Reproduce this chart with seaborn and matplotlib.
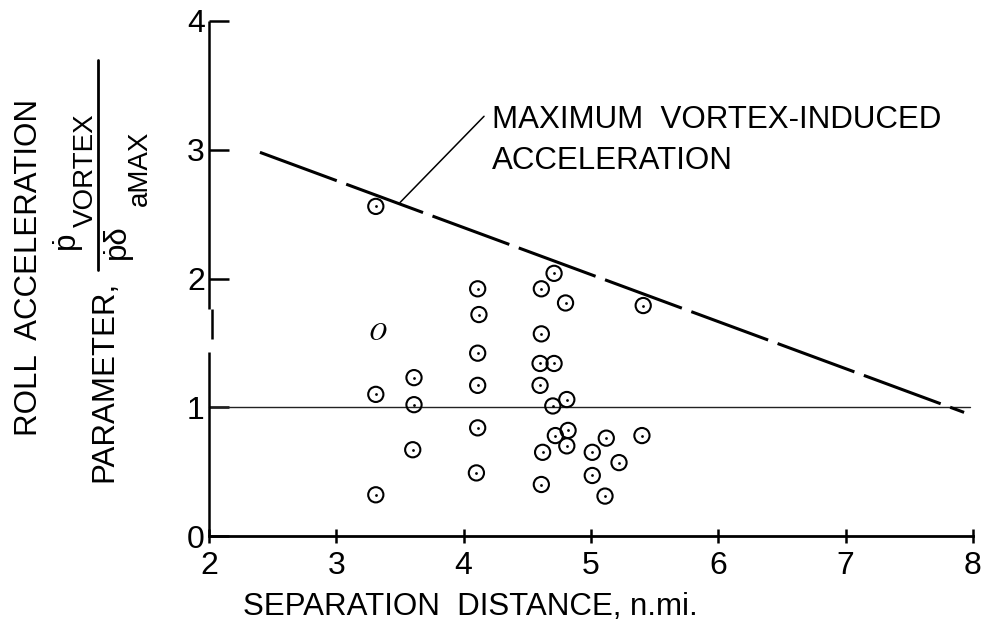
import matplotlib
matplotlib.use('Agg')
import matplotlib.pyplot as plt
from matplotlib.lines import Line2D
import seaborn as sns

# Data
sep_nmi = [3.31, 3.31, 3.31, 3.61, 3.61, 3.60, 4.11, 4.12, 4.11, 4.11, 4.11, 4.10,
           4.71, 4.61, 4.80, 5.41, 4.61, 4.60, 4.71, 4.60, 4.81, 4.70, 4.72, 4.82,
           4.81, 4.62, 4.61, 5.12, 5.01, 5.22, 5.01, 5.11, 5.40]
roll_param = [2.56, 1.10, 0.32, 1.23, 1.02, 0.67, 1.92, 1.72, 1.42, 1.17, 0.84, 0.49,
              2.04, 1.92, 1.81, 1.79, 1.57, 1.34, 1.34, 1.17, 1.06, 1.01, 0.78, 0.82,
              0.70, 0.65, 0.40, 0.76, 0.65, 0.57, 0.47, 0.31, 0.78]

# the odd open "O" symbol
open_x = [3.33]
open_y = [1.59]

# maximum vortex-induced acceleration line and the reference line at 1
max_x = [2.40, 7.93]
max_y = [2.98, 0.96]
ref_x = [2.0, 7.98]
ref_y = [1.0, 1.0]

# leader from the note to the dashed line
leader_x = [3.50, 4.16]
leader_y = [2.59, 3.26]

x_ticks = [2, 3, 4, 5, 6, 7, 8]
y_ticks = [0, 1, 2, 3, 4]

sns.set_theme(style='white')
plt.rcParams['font.family'] = ['Liberation Sans', 'DejaVu Sans']
plt.rcParams['mathtext.fontset'] = 'stix'
plt.rcParams['text.color'] = 'black'
plt.rcParams['axes.labelcolor'] = 'black'

W, H = 987, 624
FS = 22.5


def px(x, y):
    # pixel position (from top left) -> figure fraction
    return x / W, 1 - y / H


fig = plt.figure(figsize=(W / 100, H / 100), dpi=100)
ax = fig.add_axes([209 / W, 1 - 536 / H, (973 - 209) / W, (536 - 21) / H])

ax.plot(ref_x, ref_y, color='#222222', lw=1.0, clip_on=False)
ax.plot(max_x, max_y, color='black', lw=2.2, dashes=(26.8, 3.3), clip_on=False)
ax.plot(leader_x, leader_y, color='black', lw=1.1)

sns.scatterplot(x=sep_nmi, y=roll_param, marker='o', s=120, facecolor='none',
                edgecolor='black', linewidth=1.5, ax=ax, zorder=3)
sns.scatterplot(x=sep_nmi, y=roll_param, marker='o', s=4, color='black',
                linewidth=0, ax=ax, zorder=4)
sns.scatterplot(x=open_x, y=open_y, marker='$O$', s=150, color='black',
                linewidth=0, ax=ax, zorder=4)

ax.text(4.22, 3.17, 'MAXIMUM  VORTEX-INDUCED', fontsize=FS, ha='left', va='baseline')
ax.text(4.22, 2.85, 'ACCELERATION', fontsize=FS, ha='left', va='baseline')

ax.set_xlim(2, 8)
ax.set_ylim(0, 4)
ax.set_xticks(x_ticks)
ax.set_yticks(y_ticks)
ax.tick_params(axis='x', bottom=True, direction='inout', length=10, width=1.8, pad=6,
               labelsize=23, color='black', labelcolor='black')
ax.tick_params(axis='y', left=True, direction='in', length=14.4, width=1.8, pad=3,
               labelsize=23, color='black', labelcolor='black')

for side in ['top', 'right', 'left']:
    ax.spines[side].set_visible(False)
ax.spines['bottom'].set_color('black')
ax.spines['bottom'].set_linewidth(2.0)

# left axis line, broken the way the scan shows it
ax.vlines([2.0, 2.02, 2.0], [1.76, 1.53, 0.0], [4.0, 1.76, 1.43],
          color='black', lw=1.8, clip_on=False)

ax.set_xlabel('SEPARATION  DISTANCE, n.mi.', fontsize=FS, color='black')
ax.xaxis.set_label_coords(0.342, -0.108)

# y axis label built from pieces: ROLL ACCELERATION / PARAMETER, p_VORTEX / p delta_aMAX
kw = dict(rotation=90, rotation_mode='anchor', ha='center', va='baseline', color='black')
fig.text(*px(37, 267), 'ROLL  ACCELERATION', fontsize=FS, **kw)
fig.text(*px(112, 381), 'PARAMETER,', fontsize=FS, **kw)
fig.text(*px(74, 240), '\u1e57', fontsize=FS, **kw)
fig.text(*px(93, 170), 'VORTEX', fontsize=20, **kw)
fig.text(*px(125, 242), '\u1e57\u03b4', fontsize=FS, **kw)
fig.text(*px(147, 168), 'aMAX', fontsize=20, **kw)
fig.add_artist(Line2D([98 / W, 98 / W], [1 - 60 / H, 1 - 270 / H],
                      transform=fig.transFigure, color='black', lw=2.0))

fig.savefig('out.png', dpi=100, facecolor='white')
